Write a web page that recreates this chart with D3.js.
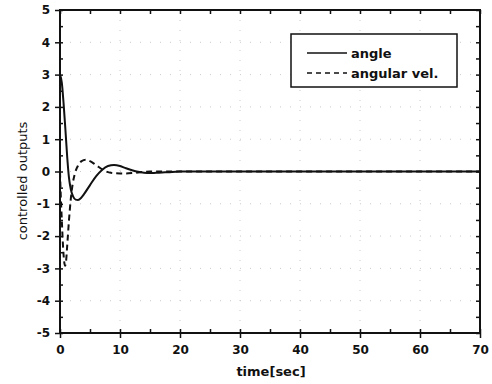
<!DOCTYPE html>
<html>
<head>
    <meta charset="utf-8" />
    <script src="https://d3js.org/d3.v7.min.js"></script>
    <style>
        body { margin: 0; background: white; }
        text { font-family: "DejaVu Sans", sans-serif; }
    </style>
</head>
<body>
    <div id="chart"></div>
    <script>
        // values
        let angleT = [0, 0.3, 0.6, 0.9, 1.2, 1.5, 1.8, 2.2, 2.6, 3.0, 3.5, 4, 5, 6, 7, 8, 9, 10, 11, 12, 13, 14, 15, 16, 17, 18, 20, 70];
        let angleV = [3.0, 2.75, 2.1, 1.3, 0.45, -0.2, -0.55, -0.78, -0.87, -0.88, -0.82, -0.7, -0.42, -0.15, 0.05, 0.17, 0.2, 0.17, 0.1, 0.04, -0.01, -0.04, -0.05, -0.04, -0.03, -0.02, 0, 0];

        let velT = [0, 0.1, 0.3, 0.5, 0.7, 0.85, 1.0, 1.2, 1.5, 1.8, 2.1, 2.5, 3, 3.6, 4.3, 5, 6, 7, 8, 9, 10, 11, 12, 13, 14, 15, 70];
        let velV = [0, -0.6, -1.5, -2.3, -2.8, -2.92, -2.8, -2.3, -1.5, -0.85, -0.4, -0.05, 0.18, 0.32, 0.36, 0.32, 0.2, 0.07, -0.02, -0.05, -0.06, -0.06, -0.05, -0.03, -0.01, 0, 0];

        let xTicks = [0, 10, 20, 30, 40, 50, 60, 70];
        let yTicks = [-5, -4, -3, -2, -1, 0, 1, 2, 3, 4, 5];
        let seriesNames = ["angle", "angular vel."];

        let width = 492, height = 384;
        let pLeft = 60, pRight = 480, pTop = 10, pBottom = 333;

        let svg = d3.select("#chart").append("svg")
            .attr("width", width)
            .attr("height", height);

        let x = d3.scaleLinear().domain([0, 70]).range([pLeft, pRight]);
        let y = d3.scaleLinear().domain([-5, 5]).range([pBottom, pTop]);

        // faint dotted grid (barely visible in the scan)
        let grid = svg.append("g")
            .attr("stroke", "#aaa")
            .attr("stroke-width", 1)
            .attr("stroke-dasharray", "1,9")
            .attr("opacity", 0.6);
        grid.selectAll("line.gx")
            .data(xTicks.slice(1, -1))
            .enter().append("line")
            .attr("x1", d => x(d)).attr("x2", d => x(d))
            .attr("y1", pTop).attr("y2", pBottom);
        grid.selectAll("line.gy")
            .data(yTicks.slice(1, -1))
            .enter().append("line")
            .attr("y1", d => y(d)).attr("y2", d => y(d))
            .attr("x1", pLeft).attr("x2", pRight);

        // axes
        let xMinor = d3.range(0, 71, 5);
        let yMinor = d3.range(-5, 5.01, 0.5);
        let fmt = d => String(d);

        svg.append("g")
            .attr("transform", "translate(0," + pBottom + ")")
            .call(d3.axisBottom(x).tickValues(xTicks).tickSize(5).tickPadding(7).tickFormat(fmt))
            .call(g => g.select(".domain").remove());
        svg.append("g")
            .attr("transform", "translate(0," + pBottom + ")")
            .call(d3.axisTop(x).tickValues(xMinor).tickSize(4).tickFormat(""))
            .call(g => g.select(".domain").remove());
        svg.append("g")
            .attr("transform", "translate(0," + pTop + ")")
            .call(d3.axisBottom(x).tickValues(xMinor).tickSize(4).tickFormat(""))
            .call(g => g.select(".domain").remove());

        svg.append("g")
            .attr("transform", "translate(" + pLeft + ",0)")
            .call(d3.axisLeft(y).tickValues(yTicks).tickSize(5).tickPadding(5).tickFormat(fmt))
            .call(g => g.select(".domain").remove());
        svg.append("g")
            .attr("transform", "translate(" + pLeft + ",0)")
            .call(d3.axisRight(y).tickValues(yMinor).tickSize(3).tickFormat(""))
            .call(g => g.select(".domain").remove());
        svg.append("g")
            .attr("transform", "translate(" + pRight + ",0)")
            .call(d3.axisLeft(y).tickValues(yMinor).tickSize(4).tickFormat(""))
            .call(g => g.select(".domain").remove());

        svg.selectAll(".tick line").attr("stroke", "#111").attr("stroke-width", 1.5);
        svg.selectAll(".tick text")
            .attr("fill", "#111")
            .style("font-family", "'DejaVu Sans', sans-serif")
            .style("font-size", "12px")
            .style("font-weight", "bold");

        // frame
        svg.append("rect")
            .attr("x", pLeft).attr("y", pTop)
            .attr("width", pRight - pLeft).attr("height", pBottom - pTop)
            .attr("fill", "none")
            .attr("stroke", "#111")
            .attr("stroke-width", 2);

        // lines
        let line = d3.line()
            .x(d => x(d[0]))
            .y(d => y(d[1]))
            .curve(d3.curveMonotoneX);

        svg.append("path")
            .datum(d3.zip(angleT, angleV))
            .attr("d", line)
            .attr("fill", "none")
            .attr("stroke", "#111")
            .attr("stroke-width", 2);

        svg.append("path")
            .datum(d3.zip(velT, velV))
            .attr("d", line)
            .attr("fill", "none")
            .attr("stroke", "#111")
            .attr("stroke-width", 2)
            .attr("stroke-dasharray", "6,4");

        // legend
        let lg = svg.append("g");
        lg.append("rect")
            .attr("x", 291).attr("y", 34)
            .attr("width", 166).attr("height", 53)
            .attr("fill", "white")
            .attr("stroke", "#111")
            .attr("stroke-width", 1.5);
        seriesNames.forEach(function (name, i) {
            let ly = 53 + i * 20;
            lg.append("line")
                .attr("x1", 307).attr("x2", 347)
                .attr("y1", ly).attr("y2", ly)
                .attr("stroke", "#111")
                .attr("stroke-width", 1.5)
                .attr("stroke-dasharray", i == 0 ? null : "5,4");
            lg.append("text")
                .attr("x", 351).attr("y", ly + 5)
                .attr("fill", "#111")
                .style("font-size", "13px")
                .style("font-weight", "bold")
                .text(name);
        });

        // axis titles
        svg.append("text")
            .attr("x", 271).attr("y", 376)
            .attr("text-anchor", "middle")
            .attr("fill", "#111")
            .style("font-size", "13px")
            .style("font-weight", "bold")
            .text("time[sec]");

        svg.append("text")
            .attr("transform", "translate(27,181) rotate(-90)")
            .attr("text-anchor", "middle")
            .attr("fill", "#111")
            .style("font-size", "13px")
            .text("controlled outputs");
    </script>
</body>
</html>
